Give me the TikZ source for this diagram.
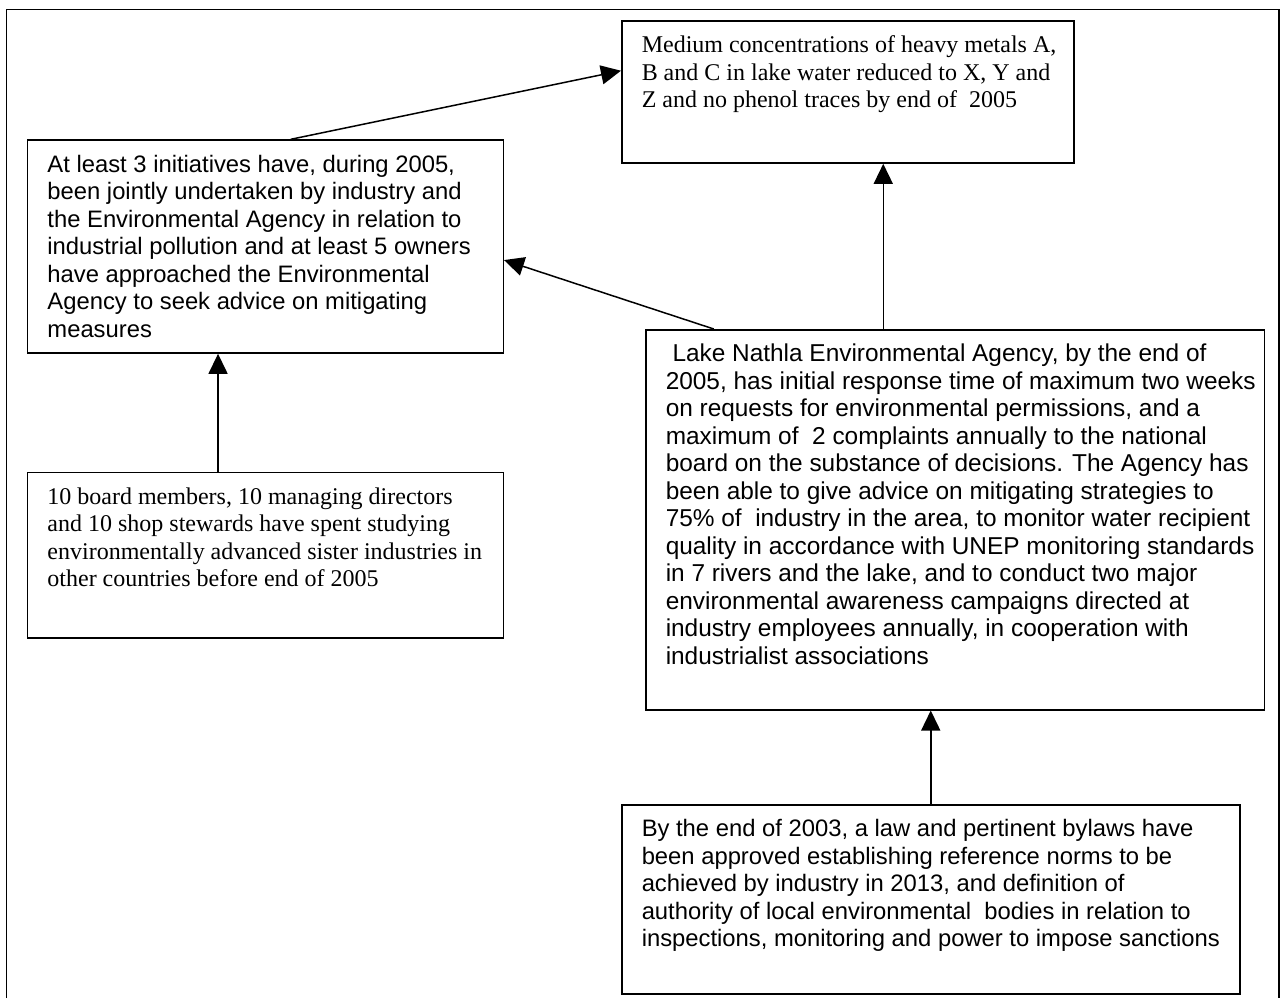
\documentclass[tikz,border=0pt]{standalone}
\usepackage{fontspec}
\setmainfont{Liberation Serif}
\newfontfamily\arialfont{Liberation Sans}
\usetikzlibrary{arrows.meta}
\newcommand{\goaltext}[3]{\parbox[t][\dimexpr#2-12.8pt\relax][t]{#1}{\raggedright\leftskip=10pt\strut#3}}

\tikzset{
  goal/.style={draw, line width=0.75pt, anchor=north west, inner xsep=0pt, inner ysep=6.4pt,
    font=\fontsize{12}{13.75}\selectfont},
  sansgoal/.style={goal, font=\arialfont\fontsize{11.9}{13.75}\selectfont},
  link/.style={-{Triangle[length=10pt,width=9.5pt]}, line width=0.75pt}
}

\begin{document}
\begin{tikzpicture}[x=0.5pt, y=-0.5pt]
    \useasboundingbox (0,0) rectangle (1284,998);
    \draw[line width=0.75pt] (6.6,998) -- (6.6,9.3) -- (1279,9.3) -- (1279,998);

    \node[goal] (result) at (621,20) {\goaltext{226pt}{71.15pt}{%
        Medium concentrations of heavy metals A,\\
        B and C in lake water reduced to X, Y and\\
        Z and no phenol traces by end of\ \ 2005}};
    \node[sansgoal] (initiatives) at (26.7,139.3) {\goaltext{237.9pt}{106.5pt}{%
        At least 3 initiatives have, during 2005,\\
        been jointly undertaken by industry and\\
        the Environmental Agency in relation to\\
        industrial pollution and at least 5 owners\\
        have approached the Environmental\\
        Agency to seek advice on mitigating\\
        measures}};
    \node[goal] (study) at (26.7,471.5) {\goaltext{237.9pt}{82.75pt}{%
        10 board members, 10 managing directors\\
        and 10 shop stewards have spent studying\\
        environmentally advanced sister industries in\\
        other countries before end of 2005}};
    \node[sansgoal, font=\arialfont\fontsize{12.2}{13.75}\selectfont] (agency) at (645,329) {\goaltext{309.25pt}{190pt}{%
        \ Lake Nathla Environmental Agency, by the end of\\
        2005, has initial response time of maximum two weeks\\
        on requests for environmental permissions, and a\\
        maximum of\ \ 2 complaints annually to the national\\
        board on the substance of decisions. The Agency has\\
        been able to give advice on mitigating strategies to\\
        75\% of\ \ industry in the area, to monitor water recipient\\
        quality in accordance with UNEP monitoring standards\\
        in 7 rivers and the lake, and to conduct two major\\
        environmental awareness campaigns directed at\\
        industry employees annually, in cooperation with\\
        industrialist associations}};
    \node[sansgoal] (law) at (621,804) {\goaltext{309pt}{94.5pt}{%
        By the end of 2003, a law and pertinent bylaws have\\
        been approved establishing reference norms to be\\
        achieved by industry in 2013, and definition of\\
        authority of local environmental\ \ bodies in relation to\\
        inspections, monitoring and power to impose sanctions}};

    % links between the levels
    \coordinate (up1) at ([xshift=17.75pt]result.south);
    \coordinate (up2) at ([xshift=-23.65pt]study.north);
    \draw[link] ([xshift=12.7pt]initiatives.north) -- ([yshift=10.6pt]result.west);
    \draw[link] ([xshift=-120.6pt]agency.north) -- ([yshift=-6.75pt]initiatives.east);
    \draw[link] (up1 |- agency.north) -- (up1);
    \draw[link] (law.north) -- (law.north |- agency.south);
    \draw[link] (up2) -- (up2 |- initiatives.south);
\end{tikzpicture}
\end{document}
